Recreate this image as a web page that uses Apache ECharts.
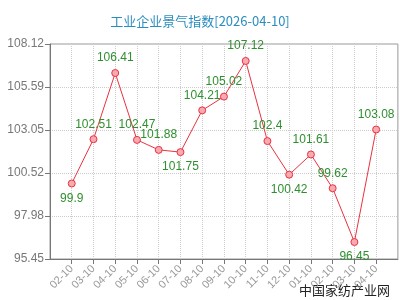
<!DOCTYPE html>
<html>
<head>
    <meta charset="utf-8">
    <title>工业企业景气指数</title>
    <script src="https://cdn.jsdelivr.net/npm/echarts@6/dist/echarts.min.js"></script>
    <style>html,body{margin:0;padding:0;background:#fff;}</style>
</head>
<body>
<div id="main" style="width: 400px;height:300px;"></div>
<script type="text/javascript">
    // 月份（首尾留空位，图上两端各空一格）
    var months = ['02-10', '03-10', '04-10', '05-10', '06-10', '07-10', '08-10', '09-10',
        '10-10', '11-10', '12-10', '01-10', '02-10', '03-10', '04-10'];
    var values = [99.9, 102.51, 106.41, 102.47, 101.88, 101.75, 104.21, 105.02,
        107.12, 102.4, 100.42, 101.61, 99.62, 96.45, 103.08];
    // 标签在点下方的那几个
    var labelBelow = [0, 5, 10, 13];
    var yTicks = [95.45, 97.98, 100.52, 103.05, 105.59, 108.12];

    var myChart = echarts.init(document.getElementById('main'));

    var cats = [''].concat(months).concat(['']);
    var seriesData = [null].concat(values.map(function (v, i) {
        return {
            value: v,
            label: {position: labelBelow.indexOf(i) >= 0 ? 'bottom' : 'top'}
        };
    })).concat([null]);

    myChart.setOption({
        animation: false,
        title: {
            text: '工业企业景气指数[2026-04-10]',
            left: 'center',
            top: 10,
            textStyle: {
                color: '#2a8dbf',
                fontSize: 13,
                fontWeight: 'normal',
                fontFamily: 'Noto Sans CJK SC'
            }
        },
        grid: {left: 50, right: 1, top: 44, bottom: 41, show: true, borderColor: '#999', borderWidth: 1},
        xAxis: {
            type: 'category',
            boundaryGap: false,
            data: cats,
            axisLine: {lineStyle: {color: '#777'}},
            axisTick: {
                interval: function (idx, val) { return val !== ''; },
                length: 5,
                lineStyle: {color: '#777'}
            },
            axisLabel: {
                interval: 0,
                rotate: 45,
                margin: 8,
                color: '#999',
                fontSize: 11,
                fontFamily: 'Liberation Sans'
            },
            splitLine: {
                show: true,
                interval: function (idx, val) { return val !== ''; },
                lineStyle: {color: '#ccc', type: 'dotted'}
            }
        },
        yAxis: {
            type: 'value',
            min: 95.45,
            max: 108.12,
            axisLine: {show: true, lineStyle: {color: '#777'}},
            axisTick: {show: true, length: 5, customValues: yTicks, lineStyle: {color: '#777'}},
            axisLabel: {
                customValues: yTicks,
                color: '#777',
                fontSize: 12,
                margin: 6,
                fontFamily: 'Liberation Sans',
                formatter: function (v) { return v.toFixed(2); }
            },
            splitLine: {lineStyle: {color: '#ccc', type: 'dotted'}}
        },
        graphic: [{
            type: 'text',
            right: 10,
            bottom: 3,
            style: {
                text: '中国家纺产业网',
                fill: '#222',
                fontSize: 13,
                fontFamily: 'Noto Sans CJK SC'
            }
        }],
        series: [{
            type: 'line',
            data: seriesData,
            symbol: 'circle',
            symbolSize: 7,
            showAllSymbol: true,
            lineStyle: {color: '#e8323f', width: 1},
            itemStyle: {color: '#f8aab2', borderColor: '#e8323f', borderWidth: 1},
            label: {
                show: true,
                distance: 5,
                color: '#2f8f2f',
                fontSize: 12,
                fontFamily: 'Liberation Sans'
            }
        }]
    });
</script>
</body>
</html>
